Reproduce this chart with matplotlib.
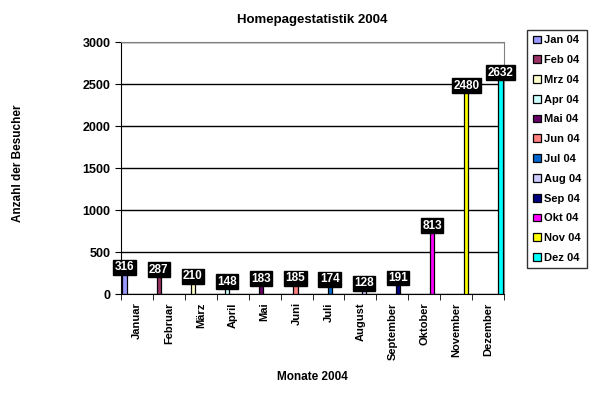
import matplotlib.pyplot as plt
import numpy as np

plt.rcParams['font.family'] = ['Liberation Sans', 'DejaVu Sans']
plt.rcParams['font.weight'] = 'bold'

monate = ['Januar', 'Februar', 'März', 'April', 'Mai', 'Juni', 'Juli',
          'August', 'September', 'Oktober', 'November', 'Dezember']
serien = ['Jan 04', 'Feb 04', 'Mrz 04', 'Apr 04', 'Mai 04', 'Jun 04',
          'Jul 04', 'Aug 04', 'Sep 04', 'Okt 04', 'Nov 04', 'Dez 04']
besucher = [316, 287, 210, 148, 183, 185, 174, 128, 191, 813, 2480, 2632]
farben = ['#9999FF', '#993366', '#FFFFCC', '#CCFFFF', '#660066', '#FF8080',
          '#0066CC', '#CCCCFF', '#000080', '#FF00FF', '#FFFF00', '#00FFFF']

fig = plt.figure(figsize=(5.95, 3.97), dpi=100)
ax = fig.add_axes([0.2034, 0.2594, 0.6437, 0.6348])

step = 0.071
w = 0.13
x = np.arange(len(monate))
for i in range(len(serien)):
    xi = x[i] + (i - 5.5) * step
    ax.bar(xi, besucher[i], width=w, color=farben[i], edgecolor='black',
           linewidth=0.9, label=serien[i], zorder=3)
    ax.text(xi, besucher[i], str(besucher[i]), ha='center', va='center',
            color='white', fontsize=8.5, fontweight='bold', zorder=5,
            bbox=dict(boxstyle='square,pad=0.12', fc='black', ec='black'))

ax.set_xlim(-0.5, 11.5)
ax.set_ylim(0, 3000)
ax.set_yticks(range(0, 3001, 500))
ax.yaxis.grid(True, color='black', linewidth=1, zorder=0)
ax.set_axisbelow(True)

ax.set_xticks(x)
ax.set_xticklabels(monate, rotation=90, fontsize=8, fontweight='bold')
ax.set_xticks(np.arange(-0.5, 12, 1), minor=True)
ax.tick_params(axis='x', which='major', length=0, pad=6)
ax.tick_params(axis='x', which='minor', length=4, direction='out', color='black')
ax.tick_params(axis='y', length=4, direction='out', labelsize=9)
for lbl in ax.get_yticklabels():
    lbl.set_fontweight('bold')

ax.spines['top'].set_color('#808080')
ax.spines['right'].set_color('#808080')
ax.spines['left'].set_color('black')
ax.spines['bottom'].set_color('black')

ax.set_title('Homepagestatistik 2004', fontsize=9.5, fontweight='bold', pad=14)
ax.set_xlabel('Monate 2004', fontsize=8.5, fontweight='bold', labelpad=8)
fig.text(0.03, 0.59, 'Anzahl der Besucher', rotation=90, ha='center', va='center',
         fontsize=8.5, fontweight='bold')

leg = fig.legend(loc='upper left', bbox_to_anchor=(0.886, 0.925), frameon=True,
                 fancybox=False, edgecolor='black', fontsize=8,
                 handlelength=0.7, handleheight=0.7, handletextpad=0.3,
                 labelspacing=0.88, borderpad=0.5, borderaxespad=0)
leg.get_frame().set_linewidth(1)

fig.savefig('out.png', dpi=100)
